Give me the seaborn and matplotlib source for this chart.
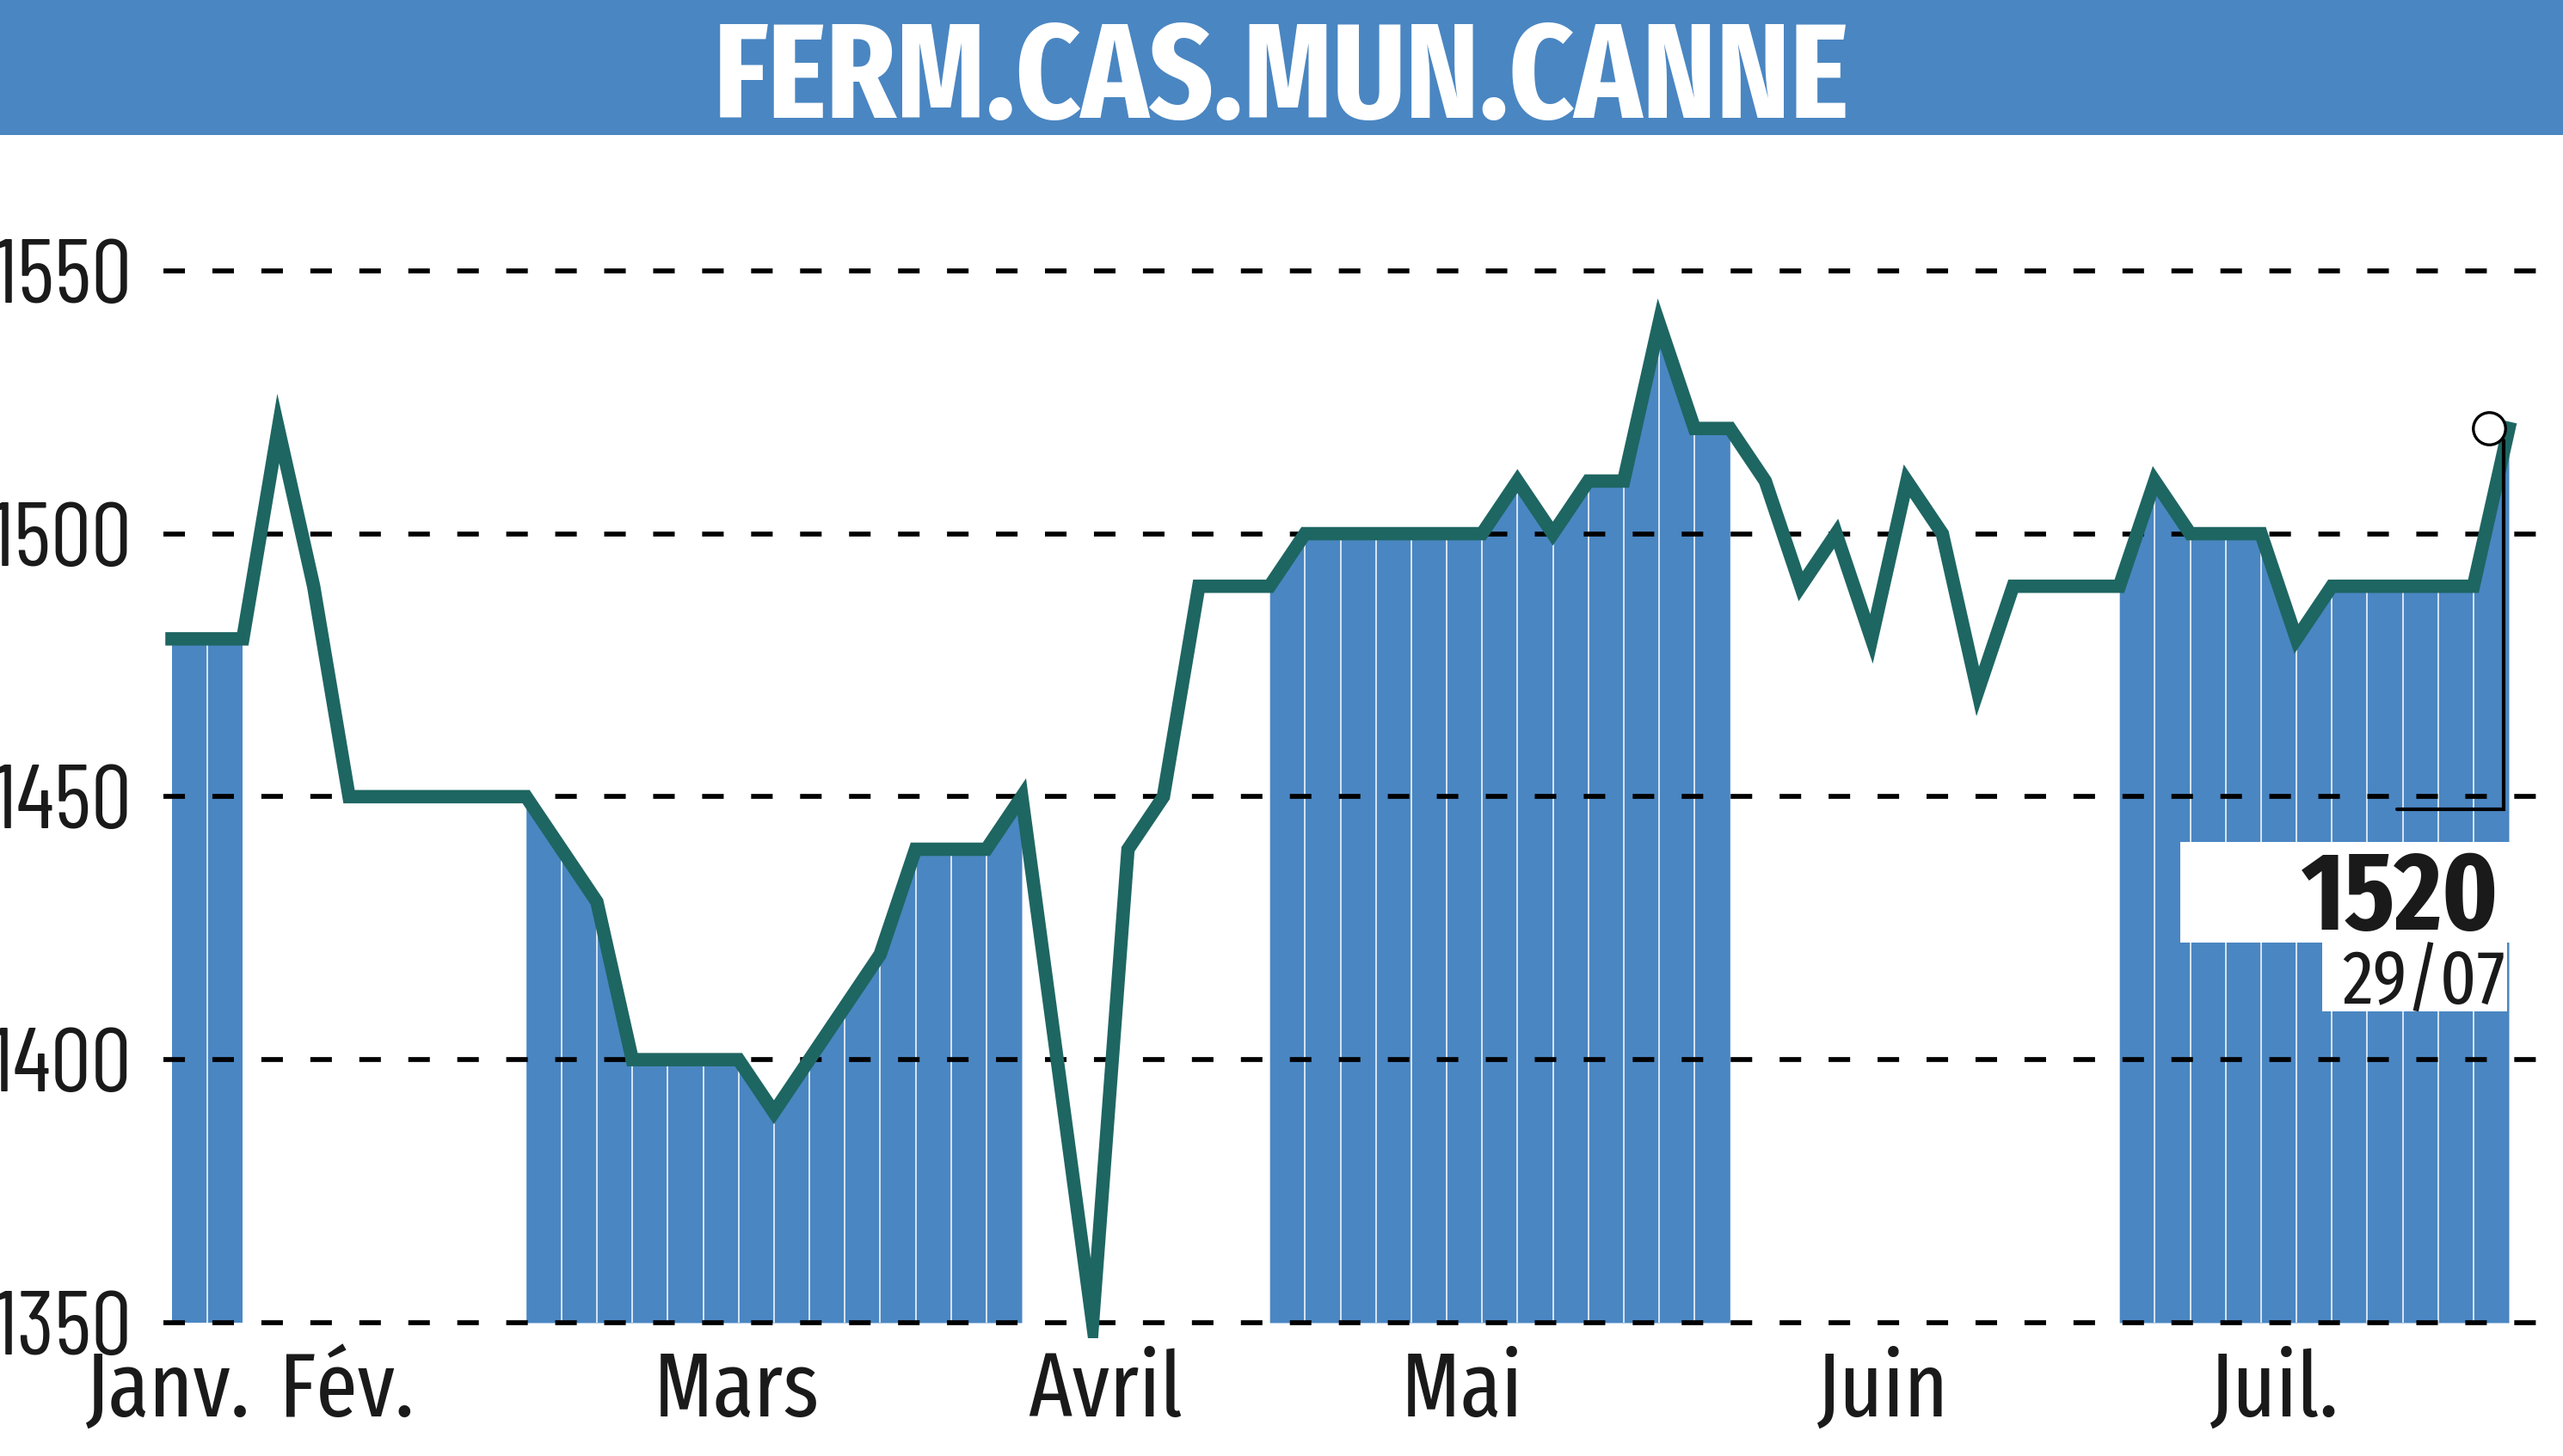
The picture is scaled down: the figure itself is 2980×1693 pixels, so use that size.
import matplotlib
matplotlib.use('Agg')
import matplotlib.pyplot as plt
from matplotlib.patches import Rectangle
import numpy as np
import pandas as pd
import seaborn as sns

# cours (un point par séance)
prices = [1480, 1480, 1480, 1520, 1490, 1450, 1450, 1450, 1450, 1450,
          1450, 1440, 1430, 1400, 1400, 1400, 1400, 1390, 1400, 1410,
          1420, 1440, 1440, 1440, 1450, 1400, 1350, 1440, 1450, 1490,
          1490, 1490, 1500, 1500, 1500, 1500, 1500, 1500, 1510, 1500,
          1510, 1510, 1540, 1520, 1520, 1510, 1490, 1500, 1480, 1510,
          1500, 1470, 1490, 1490, 1490, 1490, 1510, 1500, 1500, 1500,
          1480, 1490, 1490, 1490, 1490, 1490, 1520]
months = ['Janv.', 'Fév.', 'Mars', 'Avril', 'Mai', 'Juin', 'Juil.']
month_first = [0, 3, 10, 25, 31, 45, 55]   # indice de la 1re séance du mois
month_tick = [-0.13, 4.94, 15.93, 26.35, 36.43, 48.29, 59.36]
shaded = ['Janv.', 'Mars', 'Mai', 'Juil.']
y_ticks = [1350, 1400, 1450, 1500, 1550]
title = 'FERM.CAS.MUN.CANNE'
last_date = '29/07'

BLUE = '#4a86c2'
TEAL = '#1e6662'
W, H = 2980, 1693

df = pd.DataFrame({'idx': np.arange(len(prices)), 'price': prices})
bounds = month_first + [len(prices)]
df['month'] = ''
for k, m in enumerate(months):
    df.loc[bounds[k]:bounds[k + 1] - 1, 'month'] = m

sns.set_theme(style='white')
plt.rcParams['font.family'] = ['Fira Sans Extra Condensed', 'DejaVu Sans']

fig = plt.figure(figsize=(W / 100, H / 100), dpi=100)
ax = fig.add_axes([190 / W, 1 - 1556.3 / H, (W - 190) / W, (1556.3 - 192.4) / H])

# zones bleues (un mois sur deux) + séparateurs blancs
for m in shaded:
    sub = df[df['month'] == m]
    ax.fill_between(sub['idx'], y_ticks[0], sub['price'], color=BLUE, lw=0, zorder=1)
    inner = sub.iloc[1:-1]
    ax.vlines(inner['idx'], y_ticks[0], inner['price'], color='white', lw=1.1, zorder=1.2)

sns.lineplot(data=df, x='idx', y='price', ax=ax, color=TEAL, lw=11.2, zorder=3,
             solid_joinstyle='miter', solid_capstyle='projecting')

ax.set_xlim(-0.243, 67.53)
ax.set_ylim(1347, 1570)
ax.set_yticks(y_ticks)
ax.set_yticklabels([str(v) for v in y_ticks], family=['Barlow Condensed', 'DejaVu Sans'])
ax.set_xticks(month_tick)
ax.set_xticklabels(months)
ax.set_xlabel('')
ax.set_ylabel('')
ax.tick_params(axis='y', length=0, pad=26.6, labelsize=76, colors='#1a1a1a')
ax.tick_params(axis='x', length=0, pad=8, labelsize=76, colors='#1a1a1a')
ax.set_axisbelow(False)
ax.yaxis.grid(True, color='black', lw=4.1, linestyle=(0, (4.4, 5.6)), zorder=2.5)
ax.xaxis.grid(False)
for s in ax.spines.values():
    s.set_visible(False)
ax.patch.set_alpha(0)

# dernier cours : cercle + équerre
x_last = df['idx'].iloc[-1]
y_last = df['price'].iloc[-1]
ax.plot([x_last - 0.55], [y_last], 'o', ms=27, mfc='white', mec='black', mew=2.4, zorder=4)
ax.plot([x_last - 0.15, x_last - 0.15, x_last - 3.15], [y_last - 2.3, 1447.6, 1447.6],
        color='black', lw=3, zorder=4, solid_joinstyle='miter')

# bandeau titre
fig.add_artist(Rectangle((0, 1 - 157 / H), 1, 157 / H, transform=fig.transFigure,
                         color=BLUE, lw=0, zorder=1))
fig.text(0.5, 1 - 137 / H, title, ha='center', va='baseline', fontsize=113,
         weight='bold', color='white', zorder=3)

# étiquette du dernier cours
fig.add_artist(Rectangle((2535 / W, 1 - 1096 / H), 383 / W, 117 / H, transform=fig.transFigure,
                         color='white', lw=0, zorder=1))
fig.add_artist(Rectangle((2700 / W, 1 - 1176 / H), 215 / W, 80 / H, transform=fig.transFigure,
                         color='white', lw=0, zorder=1))
fig.text(2906 / W, 1 - 1081 / H, str(y_last), ha='right', va='baseline', fontsize=93,
         weight='bold', color='#1a1a1a', zorder=3)
fig.text(2913 / W, 1 - 1168 / H, last_date, ha='right', va='baseline', fontsize=64,
         color='#1a1a1a', zorder=3)

fig.savefig('out.png', dpi=100, facecolor='white')
